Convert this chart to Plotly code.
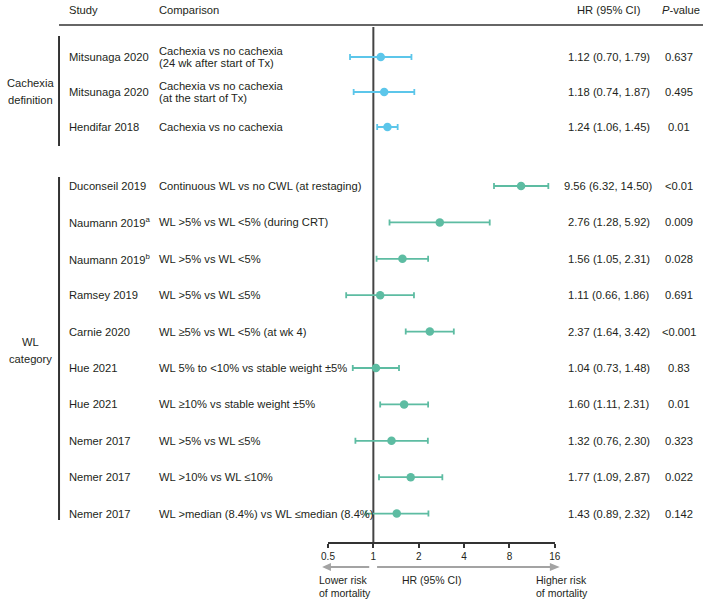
import math
import plotly.graph_objects as go

# ---------------- data ----------------
cachexia_study = ["Mitsunaga 2020", "Mitsunaga 2020", "Hendifar 2018"]
cachexia_comp = ["Cachexia vs no cachexia<br>(24 wk after start of Tx)",
                 "Cachexia vs no cachexia<br>(at the start of Tx)",
                 "Cachexia vs no cachexia"]
cachexia_hr = [1.12, 1.18, 1.24]
cachexia_lo = [0.70, 0.74, 1.06]
cachexia_hi = [1.79, 1.87, 1.45]
cachexia_p = ["0.637", "0.495", "0.01"]

wl_study = ["Duconseil 2019", "Naumann 2019<sup>a</sup>", "Naumann 2019<sup>b</sup>", "Ramsey 2019",
            "Carnie 2020", "Hue 2021", "Hue 2021", "Nemer 2017", "Nemer 2017", "Nemer 2017"]
wl_comp = ["Continuous WL vs no CWL (at restaging)",
           "WL &gt;5% vs WL &lt;5% (during CRT)",
           "WL &gt;5% vs WL &lt;5%",
           "WL &gt;5% vs WL ≤5%",
           "WL ≥5% vs WL &lt;5% (at wk 4)",
           "WL 5% to &lt;10% vs stable weight ±5%",
           "WL ≥10% vs stable weight ±5%",
           "WL &gt;5% vs WL ≤5%",
           "WL &gt;10% vs WL ≤10%",
           "WL &gt;median (8.4%) vs WL ≤median (8.4%)"]
wl_hr = [9.56, 2.76, 1.56, 1.11, 2.37, 1.04, 1.60, 1.32, 1.77, 1.43]
wl_lo = [6.32, 1.28, 1.05, 0.66, 1.64, 0.73, 1.11, 0.76, 1.09, 0.89]
wl_hi = [14.50, 5.92, 2.31, 1.86, 3.42, 1.48, 2.31, 2.30, 2.87, 2.32]
wl_p = ["&lt;0.01", "0.009", "0.028", "0.691", "&lt;0.001", "0.83", "0.01", "0.323", "0.022", "0.142"]

tick_vals = [0.5, 1, 2, 4, 8, 16]
tick_text = ["0.5", "1", "2", "4", "8", "16"]

# ---------------- layout constants ----------------
W, H = 709, 600
FONT = "Liberation Sans, Arial, sans-serif"
TXT = "#231f20"
CYAN = "#5cc6ea"
TEAL = "#5dbca2"
ARROW = "#a3a3a3"
X_LEFT_PX, X_RIGHT_PX = 327, 558
AXIS_Y = 543
FS = 11.2

cach_y = [57 + 35 * i for i in range(len(cachexia_hr))]
wl_y = [186 + 36.4 * i for i in range(len(wl_hr))]


def px(xp):
    return xp / W


fig = go.Figure()

# reference line at HR = 1
fig.add_trace(go.Scatter(x=[1, 1], y=[27, AXIS_Y], mode="lines",
                         line=dict(color="#444444", width=2), hoverinfo="skip", showlegend=False))


def add_group(hr, lo, hi, ys, color):
    fig.add_trace(go.Scatter(
        x=hr, y=ys, mode="markers",
        marker=dict(color=color, size=8.5),
        error_x=dict(type="data", symmetric=False,
                     array=[h - m for h, m in zip(hi, hr)],
                     arrayminus=[m - l for m, l in zip(hr, lo)],
                     color=color, thickness=1.8, width=3),
        showlegend=False, hoverinfo="skip"))


add_group(cachexia_hr, cachexia_lo, cachexia_hi, cach_y, CYAN)
add_group(wl_hr, wl_lo, wl_hi, wl_y, TEAL)

ann = []


def text(x, y, s, xanchor="left", size=FS, yanchor="middle"):
    ann.append(dict(x=px(x), y=y, xref="paper", yref="y", text=s, showarrow=False,
                    xanchor=xanchor, yanchor=yanchor, font=dict(family=FONT, size=size, color=TXT)))


# header
text(61, 10, "Study")
text(153, 10, "Comparison")
text(613, 10, "HR (95% CI)", xanchor="center")
text(687, 10, "<i>P</i>-value", xanchor="center")


def row_texts(studies, comps, hr, lo, hi, ps, ys):
    for s, c, h, l, u, p, y in zip(studies, comps, hr, lo, hi, ps, ys):
        text(61, y, s)
        parts = c.split("<br>")
        if len(parts) == 1:
            text(153, y, c)
        else:
            text(153, y - 6.3, parts[0])
            text(153, y + 6.3, parts[1])
        text(613, y, f"{h:.2f} ({l:.2f}, {u:.2f})", xanchor="center")
        text(685, y, p, xanchor="center")


row_texts(cachexia_study, cachexia_comp, cachexia_hr, cachexia_lo, cachexia_hi, cachexia_p, cach_y)
row_texts(wl_study, wl_comp, wl_hr, wl_lo, wl_hi, wl_p, wl_y)

# group labels
text(24, 83, "Cachexia", xanchor="center")
text(24, 100, "definition", xanchor="center")
text(24, 342, "WL", xanchor="center")
text(24, 359, "category", xanchor="center")

# bottom labels
text(316, 580, "Lower risk", size=10.5)
text(316, 593, "of mortality", size=10.5)
text(433, 580, "HR (95% CI)", xanchor="center", size=10.5)
text(537, 580, "Higher risk", size=10.5)
text(537, 593, "of mortality", size=10.5)

line_k = dict(color="#333333", width=1.6)
shapes = [
    dict(type="line", xref="paper", yref="y", x0=px(53), x1=1, y0=25, y1=25, line=line_k),
    dict(type="line", xref="paper", yref="y", x0=px(53), x1=px(53), y0=36, y1=146,
         line=dict(color="#333333", width=2)),
    dict(type="line", xref="paper", yref="y", x0=px(53), x1=px(53), y0=177, y1=520,
         line=dict(color="#333333", width=2)),
    # arrows
    dict(type="line", xref="paper", yref="y", x0=px(328), x1=px(369), y0=567, y1=567,
         line=dict(color=ARROW, width=2.2)),
    dict(type="path", xref="paper", yref="y", fillcolor=ARROW, line=dict(width=0),
         path=f"M {px(321)} 567 L {px(330)} 563 L {px(330)} 571 Z"),
    dict(type="line", xref="paper", yref="y", x0=px(377), x1=px(554), y0=567, y1=567,
         line=dict(color=ARROW, width=2.2)),
    dict(type="path", xref="paper", yref="y", fillcolor=ARROW, line=dict(width=0),
         path=f"M {px(563)} 567 L {px(553)} 563 L {px(553)} 571 Z"),
]

fig.update_layout(
    width=W, height=H,
    margin=dict(l=0, r=0, t=0, b=0),
    paper_bgcolor="white", plot_bgcolor="white",
    annotations=ann, shapes=shapes,
    xaxis=dict(type="log", domain=[X_LEFT_PX / W, X_RIGHT_PX / W],
               range=[math.log10(tick_vals[0]), math.log10(tick_vals[-1])],
               anchor="free", position=1 - AXIS_Y / H,
               showline=True, linecolor="#333333", linewidth=1.5,
               ticks="outside", ticklen=4, tickwidth=1.5, tickcolor="#333333",
               ticklabelstandoff=0,
               tickvals=tick_vals, ticktext=tick_text,
               tickfont=dict(family=FONT, size=10, color=TXT),
               showgrid=False, zeroline=False, fixedrange=True),
    yaxis=dict(range=[H, 0], domain=[0, 1], visible=False, fixedrange=True),
    showlegend=False,
)

fig.write_html("out.html", config={"displayModeBar": False},
               post_script="document.body.style.margin='0';document.body.style.overflow='hidden';")
